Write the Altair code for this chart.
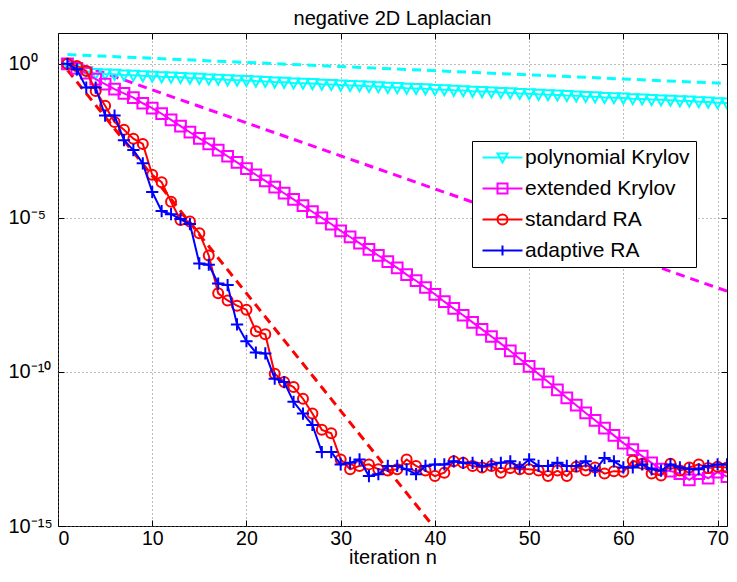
import altair as alt
import pandas as pd

# ---------------- data (log10 of the error) ----------------
iterations = list(range(1, 72))

series_names = ["polynomial Krylov", "extended Krylov", "standard RA", "adaptive RA"]
series_colors = ["#00FFFF", "#FF00FF", "#FF0000", "#0000FF"]

poly_krylov_exp = [
    0.00, -0.17, -0.25, -0.31, -0.33, -0.34, -0.36, -0.37, -0.39, -0.40,
    -0.42, -0.43, -0.44, -0.46, -0.47, -0.49, -0.50, -0.52, -0.53, -0.54,
    -0.56, -0.57, -0.59, -0.60, -0.62, -0.63, -0.64, -0.66, -0.67, -0.69,
    -0.70, -0.71, -0.73, -0.74, -0.76, -0.77, -0.79, -0.80, -0.81, -0.83,
    -0.84, -0.86, -0.87, -0.89, -0.90, -0.91, -0.93, -0.94, -0.96, -0.97,
    -0.99, -1.00, -1.01, -1.03, -1.04, -1.06, -1.07, -1.09, -1.10, -1.11,
    -1.13, -1.14, -1.16, -1.17, -1.18, -1.20, -1.21, -1.23, -1.24, -1.26,
    -1.27]

ext_krylov_exp = [
    0.00, -0.15, -0.30, -0.50, -0.66, -0.82, -0.96, -1.10, -1.28, -1.44,
    -1.62, -1.82, -2.02, -2.22, -2.42, -2.60, -2.80, -3.00, -3.20, -3.40,
    -3.60, -3.80, -4.00, -4.20, -4.40, -4.60, -4.80, -5.00, -5.20, -5.42,
    -5.62, -5.82, -6.02, -6.22, -6.42, -6.62, -6.84, -7.04, -7.26, -7.48,
    -7.72, -7.94, -8.16, -8.39, -8.62, -8.85, -9.08, -9.32, -9.57, -9.82,
    -10.07, -10.32, -10.58, -10.84, -11.08, -11.33, -11.57, -11.82, -12.06, -12.31,
    -12.52, -12.73, -12.95, -13.15, -13.22, -13.30, -13.50, -13.30, -13.45, -13.25,
    -13.40]

std_ra_exp = [
    0.00, -0.07, -0.23, -0.88, -1.36, -1.89, -2.14, -2.43, -2.60, -3.60,
    -3.84, -4.48, -5.07, -5.12, -5.50, -6.22, -7.45, -7.68, -7.85, -7.98,
    -8.68, -8.78, -10.06, -10.33, -10.49, -10.87, -11.35, -11.88, -11.99, -12.84,
    -13.16, -13.05, -13.00, -13.16, -13.20, -13.16, -12.84, -13.05, -13.20, -13.38,
    -13.27, -12.90, -12.95, -13.05, -13.10, -13.05, -13.27, -13.12, -13.16, -13.16,
    -13.20, -13.38, -13.20, -13.38, -13.08, -13.20, -13.10, -13.30, -13.22, -13.24,
    -12.88, -12.98, -13.30, -13.36, -12.98, -13.20, -13.10, -13.00, -13.12, -13.08,
    -13.10]

adapt_ra_exp = [
    0.00, -0.18, -0.77, -0.77, -1.68, -1.68, -2.48, -2.80, -3.23, -4.16,
    -4.78, -4.88, -5.04, -5.20, -6.48, -6.52, -7.13, -7.18, -8.46, -9.00,
    -9.37, -9.40, -10.22, -10.33, -10.97, -11.35, -11.72, -12.60, -12.60, -13.00,
    -12.95, -12.84, -13.38, -13.32, -13.05, -13.05, -13.16, -13.32, -13.05, -13.00,
    -13.00, -12.90, -12.95, -12.95, -13.05, -13.00, -12.95, -12.90, -13.10, -12.84,
    -13.05, -13.05, -12.95, -13.05, -13.05, -12.90, -13.20, -12.79, -12.90, -13.10,
    -13.10, -13.00, -13.16, -13.20, -13.00, -13.10, -13.16, -13.16, -13.05, -13.00,
    -13.00]

# dashed reference bounds (straight lines in log scale): start/end
bound_colors = ["#00FFFF", "#FF00FF", "#FF0000"]
bound_n_start = [1, 1, 1]
bound_n_end = [71, 71, 39.8]
bound_exp_start = [0.30, 0.12, -0.20]
bound_exp_end = [-0.64, -7.38, -15.0]

xtick_values = [0, 10, 20, 30, 40, 50, 60, 70]
ytick_exponents = [-15, -10, -5, 0]
ytick_labels = ["10\u207b\u00b9\u2075", "10\u207b\u00b9\u2070", "10\u207b\u2075", "10\u2070"]

# ---------------- tables ----------------
all_exps = [poly_krylov_exp, ext_krylov_exp, std_ra_exp, adapt_ra_exp]
frames = []
for name, exps in zip(series_names, all_exps):
    frames.append(pd.DataFrame({"n": iterations, "v": [10.0 ** e for e in exps], "series": name}))
all_df = pd.concat(frames, ignore_index=True)

brows = []
for i in range(len(bound_colors)):
    brows.append({"n": bound_n_start[i], "v": 10.0 ** bound_exp_start[i], "b": i, "col": bound_colors[i]})
    brows.append({"n": bound_n_end[i], "v": 10.0 ** bound_exp_end[i], "b": i, "col": bound_colors[i]})
bounds_df = pd.DataFrame(brows)

# ---------------- styles ----------------
FONT = "Liberation Sans"
marker_shapes = ["M-1,-0.8L1,-0.8L0,1Z", "M-1,-1L1,-1L1,1L-1,1Z", "circle", "M-1,0L1,0M0,-1L0,1"]
marker_sizes = [125, 115, 100, 150]
legend_shapes = [
    "M-1.2,0L6.8,0M1.8,-0.8L3.8,-0.8L2.8,1Z",
    "M-1.2,0L6.8,0M1.8,-1L3.8,-1L3.8,1L1.8,1Z",
    "M-1.2,0L6.8,0M1.8,0A1,1,0,1,1,3.8,0A1,1,0,1,1,1.8,0Z",
    "M-1.2,0L6.8,0M2.8,-1L2.8,1",
]

x_scale = alt.Scale(domain=[0, 71], nice=False, zero=False)
y_scale = alt.Scale(type="log", domain=[1e-15, 10], nice=False)

label_expr = ""
for e, lab in zip(ytick_exponents, ytick_labels):
    label_expr += f"round(log(datum.value)/LN10) == {e} ? '{lab}' : "
label_expr += "''"
ytick_values = [10.0 ** e for e in ytick_exponents]

grid_x = alt.Axis(orient="bottom", values=xtick_values, grid=True, gridDash=[1, 3], gridColor="#777777",
                  gridOpacity=1, gridWidth=1, ticks=False, labels=False, domain=False, title=None,
                  minExtent=0, maxExtent=0)
grid_y = alt.Axis(orient="left", values=ytick_values, grid=True, gridDash=[1, 3], gridColor="#777777",
                  gridOpacity=1, gridWidth=1, ticks=False, labels=False, domain=False, title=None,
                  minExtent=0, maxExtent=0)
main_x = alt.Axis(orient="bottom", values=xtick_values, offset=-6, tickSize=6, tickColor="black", tickWidth=1,
                  domain=False, grid=False, format="d", labelFont=FONT, labelFontSize=19.5, labelColor="black",
                  labelPadding=3, labelOverlap=False, title="iteration n", titleFont=FONT, titleFontSize=20,
                  titleFontWeight="normal", titleColor="black", titlePadding=0)
main_y = alt.Axis(orient="left", values=ytick_values, offset=-6, tickSize=6, tickColor="black", tickWidth=1,
                  domain=False, grid=False, labelExpr=label_expr, labelAlign="left", labelBaseline="middle",
                  labelPadding=50, labelFont=FONT, labelFontSize=20, labelColor="black", labelOverlap=False,
                  title=None, minExtent=50, maxExtent=50)
top_x = alt.Axis(orient="top", values=xtick_values, offset=-6, tickSize=6, tickColor="black", tickWidth=1,
                 domain=False, grid=False, labels=False, title=None, minExtent=0, maxExtent=0)
right_y = alt.Axis(orient="right", values=ytick_values, offset=-6, tickSize=6, tickColor="black", tickWidth=1,
                   domain=False, grid=False, labels=False, title=None, minExtent=0, maxExtent=0)

layers = []

# dashed bounds (carry the grid)
layers.append(
    alt.Chart(bounds_df).mark_line(strokeDash=[9, 6], strokeWidth=3, clip=True).encode(
        x=alt.X("n:Q", scale=x_scale, axis=grid_x),
        y=alt.Y("v:Q", scale=y_scale, axis=grid_y),
        color=alt.Color("col:N", scale=None),
        detail="b:N",
    )
)

for i, name in enumerate(series_names):
    sub = all_df[all_df["series"] == name]
    ax_x = main_x if i == 0 else None
    ax_y = main_y if i == 0 else None
    layers.append(
        alt.Chart(sub).mark_line(color=series_colors[i], strokeWidth=2, clip=True).encode(
            x=alt.X("n:Q", scale=x_scale, axis=ax_x),
            y=alt.Y("v:Q", scale=y_scale, axis=ax_y),
        )
    )
    px = top_x if i == 0 else None
    py = right_y if i == 0 else None
    layers.append(
        alt.Chart(sub).mark_point(shape=marker_shapes[i], size=marker_sizes[i], color=series_colors[i],
                                  filled=False, strokeWidth=2, opacity=1, clip=True).encode(
            x=alt.X("n:Q", scale=x_scale, axis=px),
            y=alt.Y("v:Q", scale=y_scale, axis=py),
        )
    )

LEG_FS = 21
legend = alt.Legend(orient="none", legendX=414, legendY=108, padding=6, strokeColor="black", fillColor="white",
                    labelFont=FONT, labelFontSize=LEG_FS, labelColor="black", labelLimit=0, symbolSize=100,
                    symbolStrokeWidth=2, symbolOpacity=1, labelOffset=26, rowPadding=9, title=None)

# invisible layer that only drives the legend
legend_df = all_df[all_df["n"] == 30]
layers.append(
    alt.Chart(legend_df).mark_point(opacity=0, filled=False, size=100, clip=True).encode(
        x=alt.X("n:Q", scale=x_scale, axis=None),
        y=alt.Y("v:Q", scale=y_scale, axis=None),
        color=alt.Color("series:N", scale=alt.Scale(domain=series_names, range=series_colors),
                        legend=legend, title=None),
        shape=alt.Shape("series:N", scale=alt.Scale(domain=series_names, range=legend_shapes),
                        legend=legend, title=None),
    )
)

chart = alt.layer(*layers).resolve_axis(x="independent", y="independent").properties(
    width=721, height=560,
    autosize=alt.AutoSizeParams(type="fit", contains="padding"),
    title=alt.TitleParams("negative 2D Laplacian", font=FONT, fontSize=20, fontWeight="normal",
                          color="black", anchor="middle", offset=4),
    padding={"left": 0, "top": 0, "right": 1, "bottom": 0},
).configure_view(stroke="black", strokeWidth=1).configure_legend(
    labelFont=FONT, labelFontSize=LEG_FS, labelColor="black", labelLimit=0, symbolSize=100, symbolStrokeWidth=2,
    labelOffset=26, rowPadding=9, padding=6, strokeColor="black", fillColor="white", symbolOpacity=1,
)

chart.save("out.html", embed_options={"renderer": "svg", "actions": False})
